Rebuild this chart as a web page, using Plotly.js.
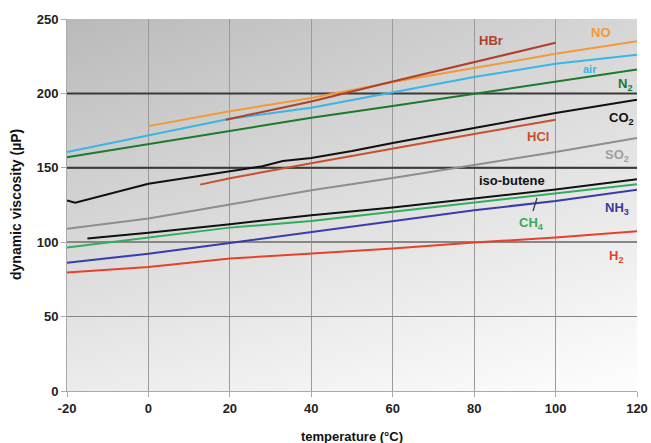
<!DOCTYPE html>
<html>
<head>
<meta charset="utf-8">
<script src="https://cdn.plot.ly/plotly-3.0.1.min.js"></script>
<style>html,body{margin:0;padding:0;background:#fff;}#chart{width:651px;height:443px;}</style>
</head>
<body>
<div id="chart"></div>
<script>
// ---- data ----
const T = [-20, 0, 20, 40, 60, 80, 100, 120];
const H2 = [79.7, 83.4, 89.0, 92.3, 95.7, 99.8, 103.1, 107.4];
const NH3 = [86.1, 92.3, 99.5, 106.9, 114.3, 121.5, 127.7, 135.3];
const CH4 = [96.4, 103.1, 109.8, 114.3, 120.4, 127.0, 132.6, 138.9];
const isoT = [-15, 0, 20, 40, 60, 80, 100, 120];
const isoButene = [102.5, 106.3, 112.1, 118.1, 123.3, 129.5, 135.4, 142.3];
const SO2 = [109.1, 115.9, 125.3, 134.9, 143.2, 151.7, 160.6, 170.0];
const co2T = [-20, -18, 0, 20, 28, 33, 40, 50, 60, 80, 100, 120];
const CO2 = [128.0, 126.5, 139.3, 147.5, 151.0, 154.5, 156.6, 161.3, 166.7, 176.7, 186.8, 195.7];
const hclT = [12.7, 20, 40, 60, 80, 100];
const HCl = [138.7, 143.0, 153.0, 163.0, 172.7, 182.3];
const N2 = [157.0, 165.8, 174.5, 183.7, 191.5, 199.7, 208.3, 216.0];
const air = [160.6, 171.8, 183.0, 190.3, 200.5, 211.0, 219.9, 226.0];
const noT = [0, 20, 40, 60, 80, 100, 120];
const NO = [178.0, 188.0, 196.9, 207.6, 217.0, 226.6, 235.0];
const hbrT = [19, 40, 60, 80, 100];
const HBr = [182.3, 194.5, 208.0, 221.0, 234.0];
const xTicks = [-20, 0, 20, 40, 60, 80, 100, 120];
const yTicks = [0, 50, 100, 150, 200, 250];

// ---- gradient background image ----
function gradientURL() {
  const w = 140, h = 125;
  const c = document.createElement('canvas');
  c.width = w; c.height = h;
  const ctx = c.getContext('2d');
  const img = ctx.createImageData(w, h);
  const tl = 186, tr = 214, bl = 236, br = 254;
  for (let j = 0; j < h; j++) {
    for (let i = 0; i < w; i++) {
      const u = i / (w - 1), v = j / (h - 1);
      const g = (1 - u) * (1 - v) * tl + u * (1 - v) * tr + (1 - u) * v * bl + u * v * br;
      const k = (j * w + i) * 4;
      img.data[k] = g; img.data[k + 1] = g; img.data[k + 2] = g; img.data[k + 3] = 255;
    }
  }
  ctx.putImageData(img, 0, 0);
  return c.toDataURL('image/png');
}

function line(x, y, color, w) {
  return {x: x, y: y, type: 'scatter', mode: 'lines', line: {color: color, width: w || 2}, hoverinfo: 'skip', showlegend: false};
}

const traces = [
  line(T, H2, '#e8402a'),
  line(T, NH3, '#3b3bb0'),
  line(T, CH4, '#2fae5c'),
  line(isoT, isoButene, '#111111'),
  line(T, SO2, '#8e8e8e'),
  line(co2T, CO2, '#111111'),
  line(hclT, HCl, '#c8502c'),
  line(T, N2, '#1c7a2c'),
  line(T, air, '#38b6e6'),
  line(noT, NO, '#f29a38'),
  line(hbrT, HBr, '#b0402a')
];

const lbl = (x, y, text, color, size) => ({
  xref: 'paper', yref: 'paper', x: x, y: y, text: text, showarrow: false,
  font: {family: 'Liberation Sans, Arial, sans-serif', size: size || 13, color: color, weight: 'bold'},
  xanchor: 'center', yanchor: 'middle'
});
// convert pixel positions to paper coords
const L = 67, R = 637, TOP = 19, BOT = 391;
const px = (x) => (x - L) / (R - L);
const py = (y) => (BOT - y) / (BOT - TOP);

const annotations = [
  lbl(px(491), py(41), 'HBr', '#b0402a'),
  lbl(px(601), py(33), 'NO', '#f29a38'),
  lbl(px(590), py(69), 'air', '#38b6e6', 11),
  lbl(px(625), py(85), 'N<sub>2</sub>', '#1c7a2c'),
  lbl(px(621), py(118), 'CO<sub>2</sub>', '#111111'),
  lbl(px(538), py(136), 'HCl', '#c8502c'),
  lbl(px(617), py(155), 'SO<sub>2</sub>', '#a0a0a0'),
  lbl(px(512), py(181), 'iso-butene', '#111111'),
  lbl(px(617), py(208), 'NH<sub>3</sub>', '#3b3b9a'),
  lbl(px(531), py(224), 'CH<sub>4</sub>', '#3aa860'),
  lbl(px(616), py(256), 'H<sub>2</sub>', '#e8402a'),
  {xref: 'paper', yref: 'paper', x: 0.5, y: py(436), text: 'temperature (°C)', showarrow: false,
   font: {family: 'Liberation Sans, Arial, sans-serif', size: 13, color: '#111', weight: 'bold'}, xanchor: 'center', yanchor: 'middle'},
  {xref: 'paper', yref: 'paper', x: px(16), y: 0.5, text: 'dynamic viscosity (µP)', showarrow: false, textangle: -90,
   font: {family: 'Liberation Sans, Arial, sans-serif', size: 14, color: '#111', weight: 'bold'}, xanchor: 'center', yanchor: 'middle'}
];

const hline = (v, color, w) => ({type: 'line', xref: 'x', yref: 'y', x0: -20, x1: 120, y0: v, y1: v, line: {color: color, width: w}, layer: 'between'});
const shapes = [
  hline(150, '#3a3a3a', 2),
  hline(200, '#3a3a3a', 2),
  {type: 'line', xref: 'paper', yref: 'paper', x0: px(537), y0: py(198), x1: px(533), y1: py(211), line: {color: '#333', width: 1.2}}
];

const layout = {
  width: 651, height: 443,
  margin: {l: L, r: 651 - R, t: TOP, b: 443 - BOT},
  paper_bgcolor: '#ffffff',
  plot_bgcolor: 'rgba(0,0,0,0)',
  showlegend: false,
  font: {family: 'Liberation Sans, Arial, sans-serif'},
  xaxis: {
    range: [-20, 120], tickvals: xTicks, ticktext: xTicks.map(String),
    showgrid: true, gridcolor: '#9e9a98', gridwidth: 1,
    showline: true, linecolor: '#aaaaaa', linewidth: 1,
    ticks: 'outside', ticklen: 5, tickcolor: '#aaaaaa',
    tickfont: {size: 13, color: '#222', weight: 'bold'},
    zeroline: false, fixedrange: true
  },
  yaxis: {
    range: [0, 250], tickvals: yTicks, ticktext: yTicks.map(String),
    showgrid: true, gridcolor: '#8a8684', gridwidth: 1.5,
    showline: true, linecolor: '#aaaaaa', linewidth: 1,
    ticks: 'outside', ticklen: 5, tickcolor: '#aaaaaa',
    tickfont: {size: 13, color: '#222', weight: 'bold'},
    zeroline: false, fixedrange: true
  },
  images: [{
    source: gradientURL(), xref: 'x', yref: 'y', x: -20, y: 250, sizex: 140, sizey: 250,
    xanchor: 'left', yanchor: 'top', sizing: 'stretch', layer: 'below'
  }],
  shapes: shapes,
  annotations: annotations
};

Plotly.newPlot('chart', traces, layout, {staticPlot: true, displayModeBar: false});
</script>
</body>
</html>
